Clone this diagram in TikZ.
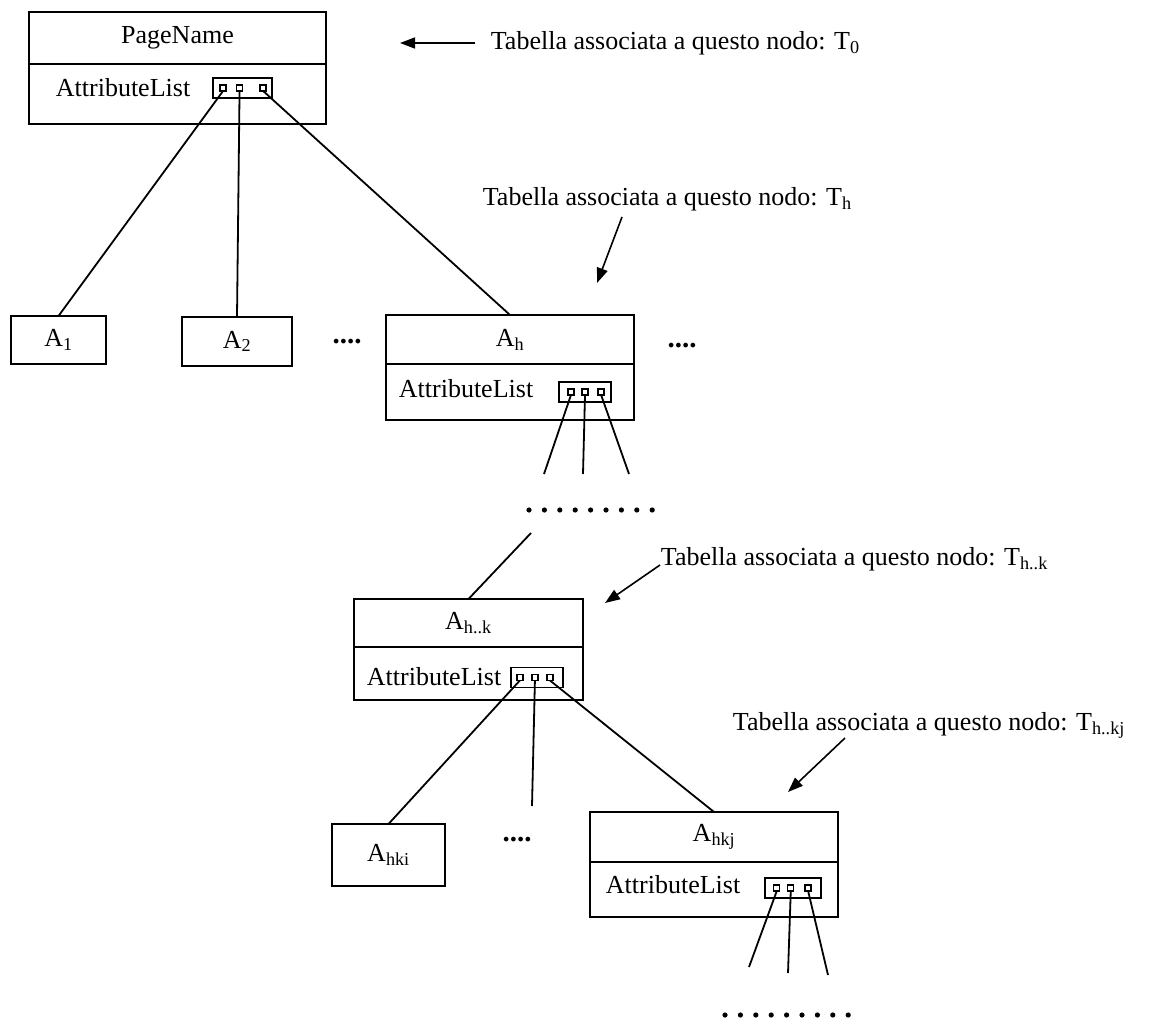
\documentclass[tikz,border=0pt]{standalone}
\usepackage{fontspec}
\setmainfont{Liberation Serif}
\usetikzlibrary{positioning,calc,arrows.meta}

\begin{document}
\begin{tikzpicture}[x=1pt, y=-1pt, line width=1.8pt,
    box/.style={draw, inner sep=0pt, outer sep=0pt, font=\fontsize{26}{30}\selectfont},
    lab/.style={inner sep=0pt, font=\fontsize{26}{30}\selectfont},
    dots/.style={inner sep=0pt, font=\fontsize{29}{30}\selectfont\bfseries},
    plug/.style={draw, line width=1.6pt, inner sep=0pt, outer sep=0pt, minimum width=#1, minimum height=20pt},
    pin/.style={draw, line width=1.4pt, inner sep=0pt, outer sep=0pt, minimum size=6pt},
    arr/.style={-{Triangle[length=15pt,width=11pt]}, line width=1.6pt}]

                    \useasboundingbox (0,0) rectangle (1158,1019);

                    % radice
                    \node[box, minimum width=297pt, minimum height=52pt] (page) at (177.5,38) {PageName};
                    \node[box, minimum width=297pt, minimum height=60pt, below=0pt of page] (pagelist) {};
                    \node[lab, anchor=base west] (pagetxt) at (55,97) {AttributeList};
                    \node[plug=59pt] (pageplug) at (242.5,88) {};
                    \foreach \i/\f in {1/0.17, 2/0.45, 3/0.85}
                    \node[pin] (pagepin\i) at ($(pageplug.west)!\f!(pageplug.east)$) {};

                    \node[lab, anchor=base west] (tzero) at (490,50) {Tabella associata a questo nodo: T\textsubscript{0}};
                    \coordinate (tzerofrom) at (475,43);
                    \coordinate (tzeroto) at (400,43);
                    \draw[arr] (tzerofrom) -- (tzeroto);

                    % primo livello
                    \node[box, minimum width=95pt, minimum height=48pt] (aone) at (58.5,340) {A\textsubscript{1}};
                    \node[box, minimum width=110pt, minimum height=49pt] (atwo) at (237,341.5) {A\textsubscript{2}};
                    \node[dots] (dotsa) at (347,342) {....};
                    \node[box, minimum width=248pt, minimum height=49pt] (ah) at (510,339.5) {A\textsubscript{h}};
                    \node[box, minimum width=248pt, minimum height=56pt, below=0pt of ah] (ahlist) {};
                    \node[lab, anchor=base west] (ahtxt) at (398,397) {AttributeList};
                    \node[plug=52pt] (ahplug) at (585,392) {};
                    \foreach \i/\f in {1/0.23, 2/0.5, 3/0.81}
                    \node[pin] (ahpin\i) at ($(ahplug.west)!\f!(ahplug.east)$) {};
                    \node[dots] (dotsb) at (682,346) {....};

                    \draw (pagepin1.south) -- (aone.north);
                    \draw (pagepin2.south) -- (atwo.north);
                    \draw (pagepin3.south) -- (ah.north);

                    \node[lab, anchor=base west] (th) at (482,205) {Tabella associata a questo nodo: T\textsubscript{h}};
                    \coordinate (thfrom) at (622,217);
                    \coordinate (thto) at (597,283);
                    \draw[arr] (thfrom) -- (thto);

                    \coordinate (ahend1) at (544,474);
                    \coordinate (ahend2) at (583,474);
                    \coordinate (ahend3) at (629,474);
                    \foreach \i in {1,2,3}
                    \draw (ahpin\i.south) -- (ahend\i);

                    \foreach \k in {0,...,8}
                    \fill ({529+15.4*\k},510) circle (2.6pt);

                    % livello h..k
                    \node[box, minimum width=229pt, minimum height=48pt] (ahk) at (468.5,623) {A\textsubscript{h..k}};
                    \node[box, minimum width=229pt, minimum height=53pt, below=0pt of ahk] (ahklist) {};
                    \node[lab, anchor=base west] (ahktxt) at (366,685) {AttributeList};
                    \node[plug=52pt] (ahkplug) at (537,677.5) {};
                    \foreach \i/\f in {1/0.17, 2/0.46, 3/0.75}
                    \node[pin] (ahkpin\i) at ($(ahkplug.west)!\f!(ahkplug.east)$) {};

                    \coordinate (ahkfrom) at (531,533);
                    \draw (ahkfrom) -- (ahk.north);

                    \node[lab, anchor=base west] (thk) at (660,565) {Tabella associata a questo nodo: T\textsubscript{h..k}};
                    \coordinate (thkto) at (605,603);
                    \draw[arr] (thk.base west) -- (thkto);

                    % livello hk
                    \node[box, minimum width=113pt, minimum height=62pt] (ahki) at (388.5,855) {A\textsubscript{hki}};
                    \node[dots] (dotsc) at (517,840) {....};
                    \node[box, minimum width=248pt, minimum height=50pt] (ahkj) at (714,837) {A\textsubscript{hkj}};
                    \node[box, minimum width=248pt, minimum height=55pt, below=0pt of ahkj] (ahkjlist) {};
                    \node[lab, anchor=base west] (ahkjtxt) at (605,893) {AttributeList};
                    \node[plug=56pt] (ahkjplug) at (793,888) {};
                    \foreach \i/\f in {1/0.21, 2/0.46, 3/0.77}
                    \node[pin] (ahkjpin\i) at ($(ahkjplug.west)!\f!(ahkjplug.east)$) {};

                    \coordinate (ahkmid) at (532,806);
                    \draw (ahkpin1.south) -- (ahki.north);
                    \draw (ahkpin2.south) -- (ahkmid);
                    \draw (ahkpin3.south) -- (ahkj.north);

                    \node[lab, anchor=base west] (thkj) at (732,730) {Tabella associata a questo nodo: T\textsubscript{h..kj}};
                    \coordinate (thkjfrom) at (845,738);
                    \coordinate (thkjto) at (788,792);
                    \draw[arr] (thkjfrom) -- (thkjto);

                    \coordinate (ahkjend1) at (749,967);
                    \coordinate (ahkjend2) at (788,973);
                    \coordinate (ahkjend3) at (828,975);
                    \foreach \i in {1,2,3}
                    \draw (ahkjpin\i.south) -- (ahkjend\i);

                    \foreach \k in {0,...,8}
                    \fill ({725+15.4*\k},1015) circle (2.6pt);
                \end{tikzpicture}
\end{document}
